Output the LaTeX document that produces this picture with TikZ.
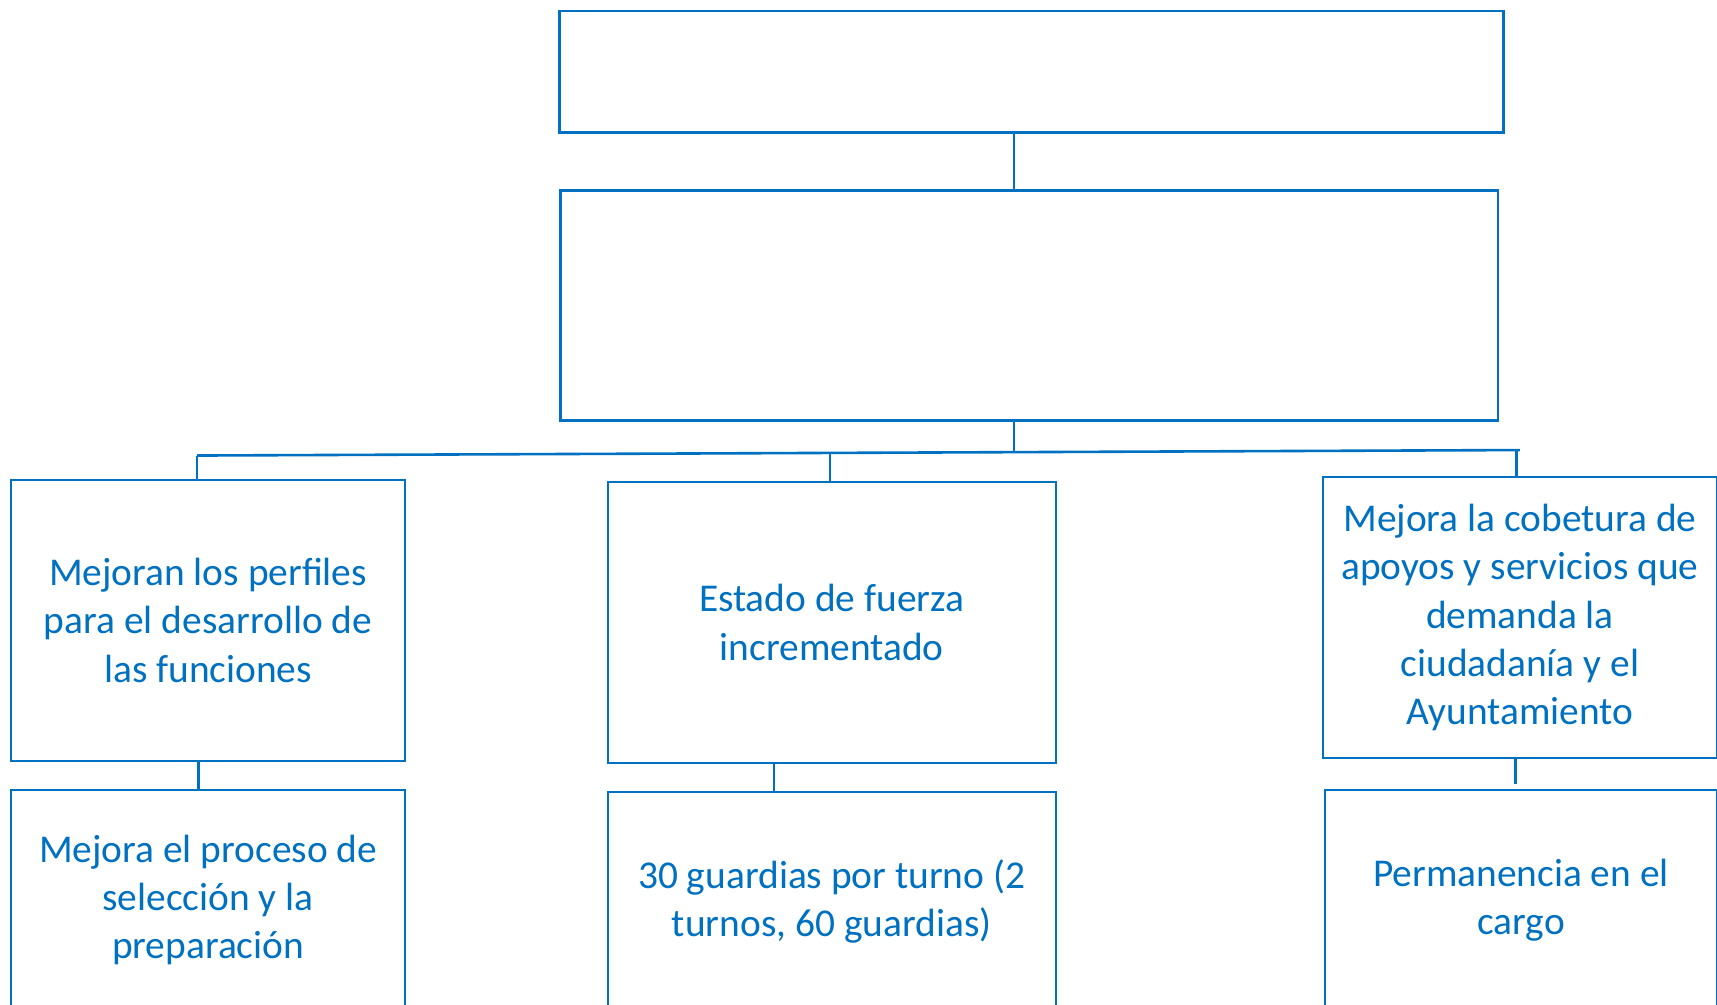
\documentclass[tikz,border=0pt]{standalone}
\usepackage{fontspec}
\setmainfont{Carlito}
\definecolor{oblue}{RGB}{0,112,192}
\begin{document}
\begin{tikzpicture}[x=0.5475pt,y=-0.5475pt,
  box/.style={draw=oblue,line width=1pt,rectangle,inner sep=0pt,align=center,
    text=oblue,font=\fontsize{19.7}{24.1}\selectfont},
  conn/.style={draw=oblue,line width=1.3pt}]
\useasboundingbox (0,0) rectangle (1568,917);
\begin{scope}
\clip (0,0) rectangle (1568,917);
\node[box,minimum width=862*0.5475pt,minimum height=111*0.5475pt,line width=1.2pt] (t1) at (942,65.5) {};
\node[box,minimum width=856*0.5475pt,minimum height=210*0.5475pt,line width=1.2pt] (t2) at (940,279) {};
\node[box,minimum width=360*0.5475pt,minimum height=257*0.5475pt] (l1) at (190,566.5)
  {Mejoran los perfiles\\para el desarrollo de\\las funciones};
\node[box,minimum width=409*0.5475pt,minimum height=257*0.5475pt] (m1) at (759.5,568.5)
  {Estado de fuerza\\incrementado};
\node[box,minimum width=360*0.5475pt,minimum height=256*0.5475pt] (r1) at (1388,564)
  {Mejora la cobetura de\\apoyos y servicios que\\demanda la\\ciudadanía y el\\Ayuntamiento};
\node[box,minimum width=360*0.5475pt,minimum height=202*0.5475pt] (l2) at (190,822)
  {Mejora el proceso de\\selección y la\\preparación};
\node[box,minimum width=409*0.5475pt,minimum height=200*0.5475pt] (m2) at (759.5,823)
  {30 guardias por turno (2\\turnos, 60 guardias)};
\node[box,minimum width=358*0.5475pt,minimum height=202*0.5475pt] (r2) at (1389,822)
  {Permanencia en el\\cargo};
\end{scope}
\coordinate (busL) at (180,416);
\coordinate (busR) at (1388,411);
\coordinate (busT) at (926,412.9);
\coordinate (busM) at (758,413.6);
\draw[conn] (t1.south -| busT) -- (t2.north -| busT);
\draw[conn] (t2.south -| busT) -- (busT);
\draw[conn] (busL) -- (busR);
\draw[conn] (busL) -- (busL |- l1.north);
\draw[conn] (busM) -- (busM |- m1.north);
\draw[conn] (1385,411) -- (1385,436);
\coordinate (cl) at (181,700);
\coordinate (cm) at (707,700);
\coordinate (cr) at (1384,696);
\draw[conn] (l1.south -| cl) -- (l2.north -| cl);
\draw[conn] (m1.south -| cm) -- (m2.north -| cm);
\draw[conn] (r1.south -| cr) -- (1384,716);
\end{tikzpicture}
\end{document}
